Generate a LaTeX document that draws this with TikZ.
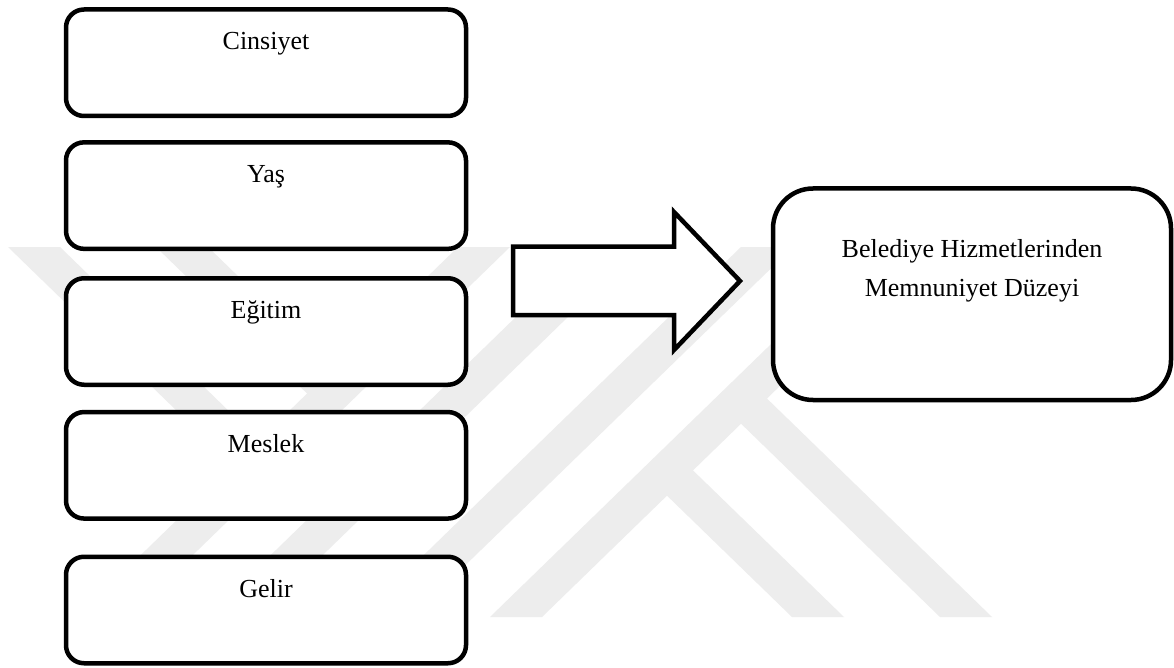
\documentclass[tikz,border=0pt]{standalone}
\usepackage{fontspec}
\setmainfont{Liberation Serif}
\definecolor{wmgray}{RGB}{237,237,237}
\begin{document}
\begin{tikzpicture}[x=1pt,y=-1pt,
  wm/.style={fill=wmgray,draw=none},
  smallbox/.style={draw=black,fill=white,line width=4.5pt,rounded corners=18pt,
    minimum width=400pt,minimum height=106.5pt,inner sep=0pt,outer sep=0pt},
  bigbox/.style={draw=black,fill=white,line width=4.5pt,rounded corners=40pt,
    minimum width=398pt,minimum height=211.5pt,inner sep=0pt,outer sep=0pt},
  lbl/.style={anchor=base,inner sep=0pt,font=\fontsize{26}{31}\selectfont},
  blockarrow/.style={draw=black,fill=white,line width=4.5pt,line join=miter}]
\useasboundingbox (0,0) rectangle (1174,668);
\fill[white] (0,0) rectangle (1174,668);
% watermark
\fill[wm] (77,617) -- (129,617) -- (510,247) -- (458,247) -- cycle;
\fill[wm] (207,617) -- (259,617) -- (640,247) -- (588,247) -- cycle;
\fill[wm] (360,617) -- (412,617) -- (793,247) -- (741,247) -- cycle;
\fill[wm] (490,617) -- (542,617) -- (923,247) -- (871,247) -- cycle;
\fill[wm] (792,617) -- (844,617) -- (680,457.8) -- (654,483) -- cycle;
\fill[wm] (940,617) -- (992,617) -- (754,386) -- (728,411) -- cycle;
\fill[wm] (8,247) -- (60,247) -- (272,453) -- (246,478) -- cycle;
\fill[wm] (156,247) -- (208,247) -- (346,381) -- (320,406) -- cycle;
% left boxes
\node[smallbox] (cins) at (266,62.75) {};
\node[lbl] (cinsT) at ([yshift=-40.5pt]cins.north) {Cinsiyet};
\node[smallbox] (yas) at (266,195.6) {};
\node[lbl] (yasT) at ([yshift=-40.5pt]yas.north) {Yaş};
\node[smallbox] (egitim) at (266,331.5) {};
\node[lbl] (egitimT) at ([yshift=-40.5pt]egitim.north) {Eğitim};
\node[smallbox] (meslek) at (266,465.3) {};
\node[lbl] (meslekT) at ([yshift=-40.5pt]meslek.north) {Meslek};
\node[smallbox] (gelir) at (266,610) {};
\node[lbl] (gelirT) at ([yshift=-40.5pt]gelir.north) {Gelir};
% right box
\node[bigbox] (memnun) at (972,294.25) {};
\node[lbl] (memnunT1) at ([yshift=-68.8pt]memnun.north) {Belediye Hizmetlerinden};
\node[lbl] (memnunT2) at ([yshift=-107.5pt]memnun.north) {Memnuniyet Düzeyi};
% block arrow
\draw[blockarrow] (513,246.7) -- (674,246.7) -- (674,212) -- (740,281)
  -- (674,350) -- (674,315) -- (513,315) -- cycle;
\end{tikzpicture}
\end{document}
